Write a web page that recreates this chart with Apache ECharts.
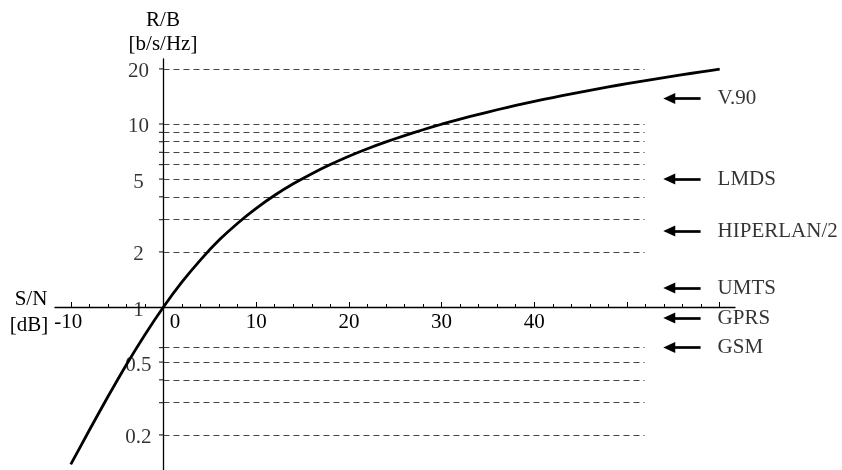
<!DOCTYPE html>
<html><head><meta charset="utf-8">
<script src="https://cdn.jsdelivr.net/npm/echarts@6/dist/echarts.min.js"></script>
<style>html,body{margin:0;padding:0;background:#fff}#c{width:842px;height:470px}</style>
</head><body><div id="c"></div>
<script>
// Shannon curve (S/N in dB, R/B in b/s/Hz)
const snrDb = [-10,-8,-6,-4,-2,0,2,4,6,8,10,12,14,16,18,20,22,24,26,28,30,32,34,36,38,40,42,44,46,48,50,52,54,56,58,60];
const rateBpsHz = [0.138,0.212,0.323,0.484,0.706,1.0,1.37,1.81,2.32,2.87,3.46,4.08,4.71,5.35,6.0,6.66,7.32,7.98,8.64,9.3,9.97,10.63,11.29,11.96,12.62,13.29,13.95,14.62,15.28,15.95,16.61,17.28,17.94,18.6,19.27,19.93];
// axis ticks and labels
const xMajorTicks = [-10,0,10,20,30,40,50,60];
const xMinorTicks = [-8,-6,-4,-2,2,4,6,8,12,14,16,18,22,24,26,28,32,34,36,38,42,44,46,48,52,54,56,58];
const xTickLabels = [-10,0,10,20,30,40];
const yGridLines = [0.2,0.3,0.4,0.5,0.6,2,3,4,5,6,7,8,9,10,20];
const yTickLabels = [0.2,0.5,1,2,5,10,20];
// annotated systems
const systemNames = ['V.90','LMDS','HIPERLAN/2','UMTS','GPRS','GSM'];
const systemRates = [13.8,5,2.6,1.27,0.87,0.6];

const FONT = 'Liberation Serif, Times New Roman, serif';
const xMin = -11.7, xMax = 61.65, yMin = 0.1286, yMax = 22.65;
const dashEndDb = 51.9, arrowTailDb = 57.94, arrowHeadDb = 54.56;

const chart = echarts.init(document.getElementById('c'), null, {renderer:'canvas'});
const xAxisBase = {
  type:'value', min:xMin, max:xMax, position:'bottom', offset:-163,
  splitLine:{show:false}
};
chart.setOption({
  animation:false,
  backgroundColor:'#fff',
  grid:{left:55, right:107, top:59, bottom:0, containLabel:false},
  xAxis:[
    Object.assign({}, xAxisBase, {
      axisLine:{show:true, onZero:false, lineStyle:{color:'#000', width:1.3}},
      axisTick:{show:true, inside:true, length:5, customValues:xMajorTicks, lineStyle:{color:'#000', width:1}},
      axisLabel:{show:true, customValues:xTickLabels, margin:5, color:'#000', fontFamily:FONT, fontSize:21,
        formatter:function(v){ if(v===0) return '{z|0}'; if(v===-10) return '{m|-10}'; return String(v); },
        rich:{z:{padding:[0,0,0,23], fontFamily:FONT, fontSize:21, color:'#000'},
              m:{padding:[0,5,0,0], fontFamily:FONT, fontSize:21, color:'#000'}}}
    }),
    Object.assign({}, xAxisBase, {
      axisLine:{show:false, onZero:false},
      axisTick:{show:true, inside:true, length:3, customValues:xMinorTicks, lineStyle:{color:'#000', width:1}},
      axisLabel:{show:false}
    })
  ],
  yAxis:{
    type:'log', logBase:10, min:yMin, max:yMax, position:'left',
    axisLine:{show:true, onZero:true, lineStyle:{color:'#000', width:1.3}},
    axisTick:{show:false}, axisLabel:{show:false}, splitLine:{show:false}, minorTick:{show:false}
  },
  graphic:[
    {type:'text', x:163, y:20, style:{text:'R/B', fill:'#000', font:'21px '+FONT, align:'center', verticalAlign:'middle', textAlign:'center', textVerticalAlign:'middle'}},
    {type:'text', x:163, y:44, style:{text:'[b/s/Hz]', fill:'#000', font:'21px '+FONT, align:'center', verticalAlign:'middle', textAlign:'center', textVerticalAlign:'middle'}},
    {type:'text', x:31, y:299, style:{text:'S/N', fill:'#000', font:'21px '+FONT, align:'center', verticalAlign:'middle', textAlign:'center', textVerticalAlign:'middle'}},
    {type:'text', x:29, y:325, style:{text:'[dB]', fill:'#000', font:'21px '+FONT, align:'center', verticalAlign:'middle', textAlign:'center', textVerticalAlign:'middle'}}
  ],
  series:[
    {
      type:'line', name:'capacity', xAxisIndex:0,
      data:snrDb.map((x,i)=>[x, rateBpsHz[i]]),
      symbol:'none', showSymbol:false, smooth:0.2, z:5,
      lineStyle:{color:'#000', width:2.8},
      markLine:{
        silent:true, animation:false, symbol:['none','none'], label:{show:false},
        lineStyle:{type:[6,4], color:'#444', width:1.2},
        emphasis:{disabled:true},
        data:yGridLines.map(v=>[{coord:[0,v]},{coord:[dashEndDb,v]}])
      }
    },
    {
      type:'scatter', name:'yticks', xAxisIndex:0,
      data:yGridLines.map(v=>[0,v]),
      symbol:'rect', symbolSize:[5,1.2], symbolOffset:[-2,0],
      itemStyle:{color:'#000'}, silent:true, z:6
    },
    {
      type:'scatter', name:'ylabels', xAxisIndex:0,
      data:yTickLabels.map(v=>[0,v]),
      symbolSize:0, silent:true,
      label:{show:true, position:'left', distance:25, align:'center', verticalAlign:'middle', offset:[0,3],
        color:'#000', fontFamily:FONT, fontSize:21, formatter:p=>String(p.value[1])}
    },
    {
      type:'scatter', name:'systems', xAxisIndex:0,
      data:systemRates.map((v,i)=>({name:systemNames[i], value:[arrowTailDb, v]})),
      symbolSize:0, silent:true,
      label:{show:true, position:'right', distance:17, color:'#000', fontFamily:FONT, fontSize:21, formatter:'{b}'},
      markLine:{
        silent:true, animation:false, symbol:['none','triangle'], symbolSize:[11,12], label:{show:false},
        lineStyle:{type:'solid', color:'#000', width:2.7},
        emphasis:{disabled:true},
        data:systemRates.map(v=>[{coord:[arrowTailDb,v]},{coord:[arrowHeadDb,v]}])
      }
    }
  ]
});
</script>
</body></html>
